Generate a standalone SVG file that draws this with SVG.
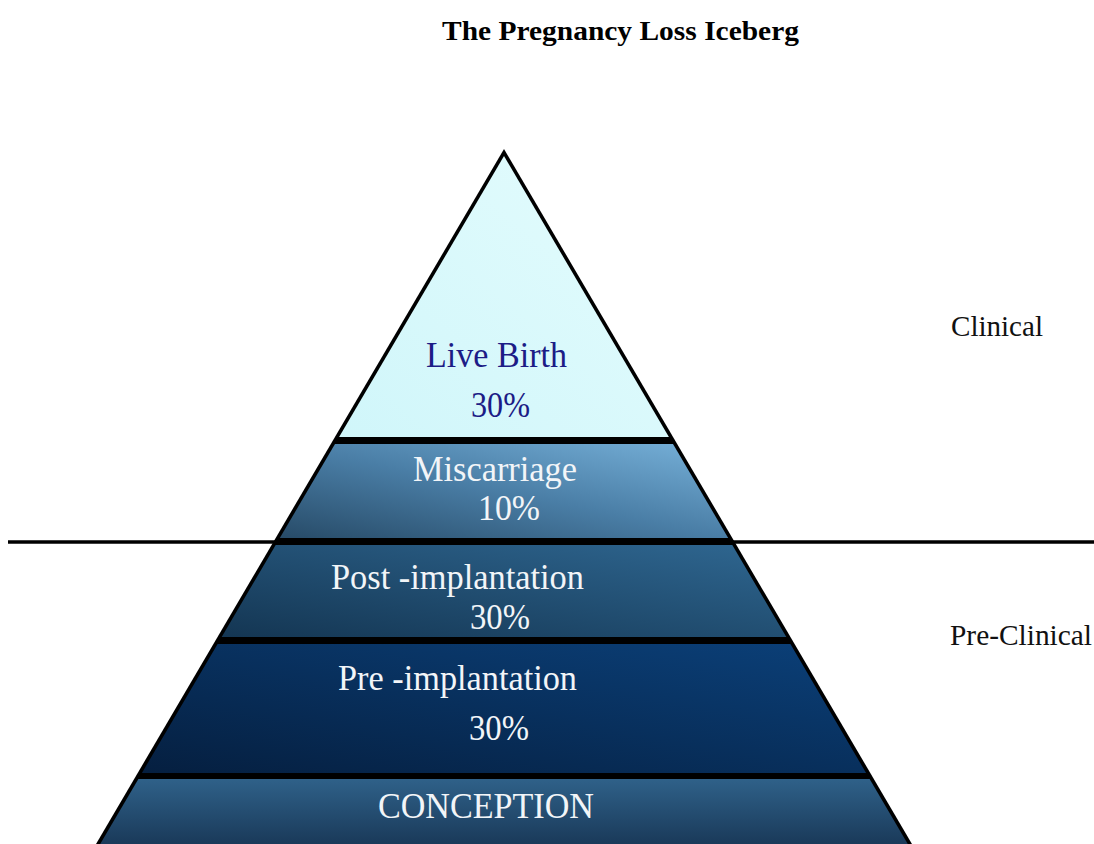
<svg xmlns="http://www.w3.org/2000/svg" width="1094" height="844" viewBox="0 0 1094 844">
  <defs>
    <linearGradient id="gLive" x1="0" y1="1" x2="1" y2="0">
      <stop offset="0" stop-color="#d0f6fa"/>
      <stop offset="1" stop-color="#e4fcfd"/>
    </linearGradient>
    <linearGradient id="gMis" x1="0" y1="1" x2="1" y2="0">
      <stop offset="0" stop-color="#274b68"/>
      <stop offset="0.5" stop-color="#4a7ea6"/>
      <stop offset="1" stop-color="#78b2da"/>
    </linearGradient>
    <linearGradient id="gPost" x1="0" y1="1" x2="1" y2="0">
      <stop offset="0" stop-color="#143653"/>
      <stop offset="1" stop-color="#2f6791"/>
    </linearGradient>
    <linearGradient id="gPre" x1="0" y1="1" x2="1" y2="0">
      <stop offset="0" stop-color="#051f40"/>
      <stop offset="1" stop-color="#0b4079"/>
    </linearGradient>
    <linearGradient id="gCon" x1="0" y1="0" x2="0" y2="1">
      <stop offset="0" stop-color="#2f6189"/>
      <stop offset="1" stop-color="#183655"/>
    </linearGradient>
  </defs>
  <style>
    .lbl { font-family: "Liberation Serif", "Times New Roman", serif; font-size: 35px; fill: #f2f5f8; }
    .dark { fill: #1c1c86; }
    .side { font-family: "Liberation Serif", "Times New Roman", serif; font-size: 29px; fill: #111; }
    .title { font-family: "Liberation Serif", "Times New Roman", serif; font-size: 27px; font-weight: bold; fill: #000; }
  </style>
  <rect width="1094" height="844" fill="#ffffff"/>
  <text class="title" x="442" y="40" textLength="357" lengthAdjust="spacingAndGlyphs">The Pregnancy Loss Iceberg</text>

  <g id="connectors">
    <line x1="8" y1="542" x2="1094" y2="542" stroke="#000" stroke-width="3.5"/>
  </g>

  <g id="pyramid-outline">
    <polygon points="504,149 92.5,850 915.5,850" fill="#000"/>
  </g>

  <g id="live-birth">
    <polygon points="504,156 668.9,437 339.1,437" fill="url(#gLive)"/>
    <text class="lbl dark" x="426" y="367" textLength="141" lengthAdjust="spacingAndGlyphs">Live Birth</text>
    <text class="lbl dark" x="471" y="417" textLength="59" lengthAdjust="spacingAndGlyphs">30%</text>
  </g>

  <g id="miscarriage">
    <polygon points="335,444 673,444 728.2,538 279.8,538" fill="url(#gMis)"/>
    <text class="lbl" x="413" y="481" textLength="164" lengthAdjust="spacingAndGlyphs">Miscarriage</text>
    <text class="lbl" x="478" y="520" textLength="62" lengthAdjust="spacingAndGlyphs">10%</text>
  </g>

  <g id="post-implantation">
    <polygon points="275.7,545 732.3,545 786.3,637 221.7,637" fill="url(#gPost)"/>
    <text class="lbl" x="331" y="589" textLength="253" lengthAdjust="spacingAndGlyphs">Post -implantation</text>
    <text class="lbl" x="470" y="629" textLength="60" lengthAdjust="spacingAndGlyphs">30%</text>
  </g>

  <g id="pre-implantation">
    <polygon points="217.6,644 790.4,644 866.1,773 141.9,773" fill="url(#gPre)"/>
    <text class="lbl" x="338" y="690" textLength="239" lengthAdjust="spacingAndGlyphs">Pre -implantation</text>
    <text class="lbl" x="469" y="740" textLength="60" lengthAdjust="spacingAndGlyphs">30%</text>
  </g>

  <g id="conception">
    <polygon points="138.4,779 869.6,779 911.3,850 96.7,850" fill="url(#gCon)"/>
    <text class="lbl" x="378" y="818" textLength="216" lengthAdjust="spacingAndGlyphs">CONCEPTION</text>
  </g>

  <g id="side-labels">
    <text class="side" x="951" y="336" textLength="92" lengthAdjust="spacingAndGlyphs">Clinical</text>
    <text class="side" x="950" y="645" textLength="142" lengthAdjust="spacingAndGlyphs">Pre-Clinical</text>
  </g>
</svg>
